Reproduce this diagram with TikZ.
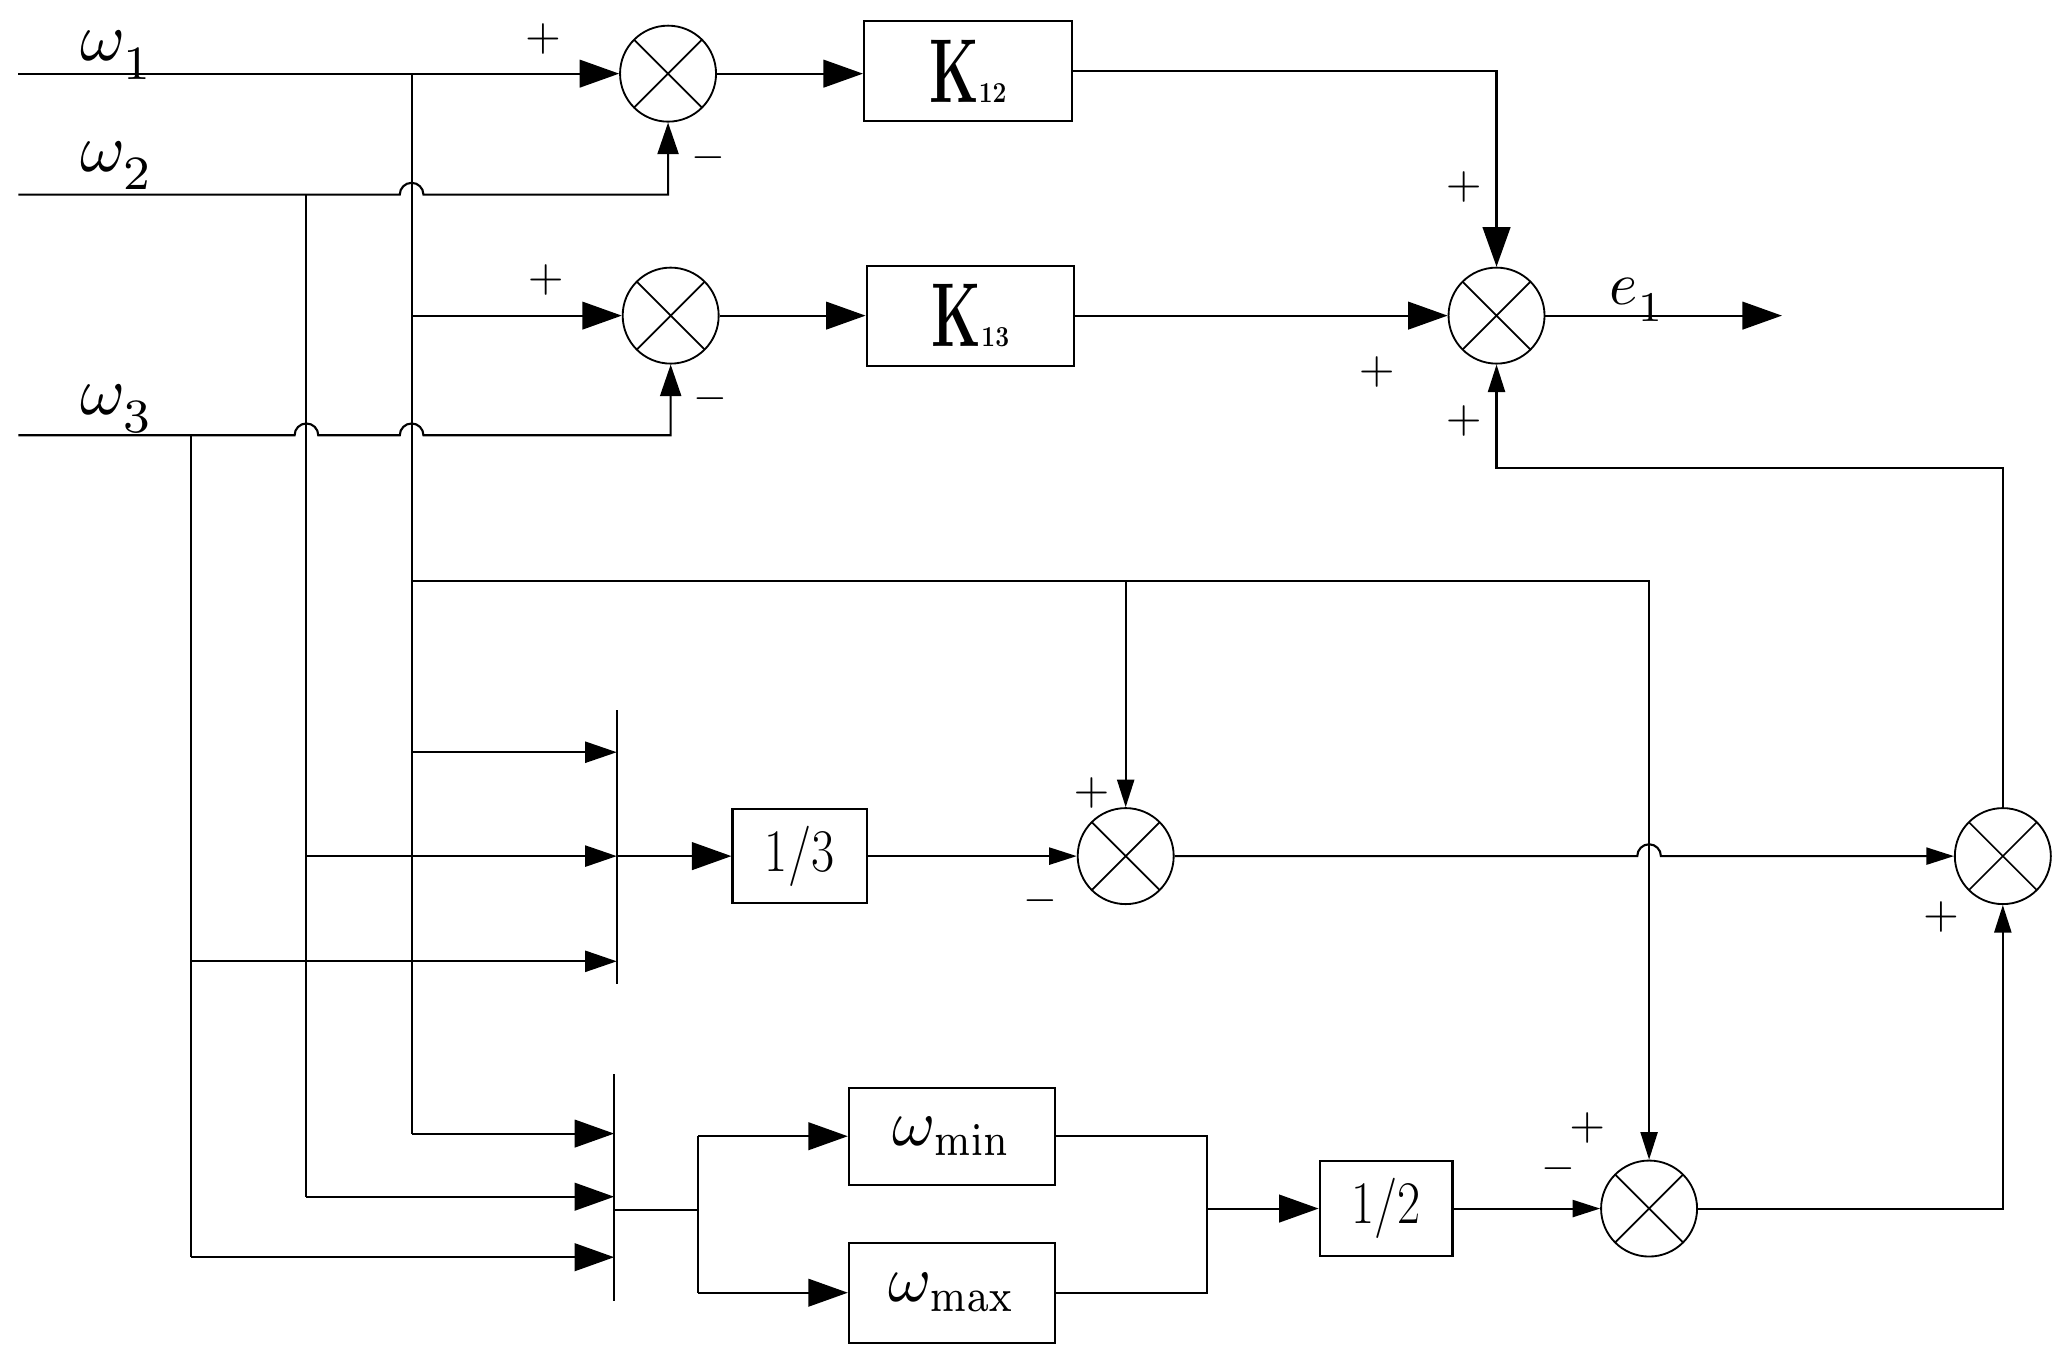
\documentclass[tikz,border=0pt]{standalone}
\usepackage{graphicx}
\usetikzlibrary{arrows.meta,calc}
\newcommand\Kt[1]{\scalebox{0.62}[1]{\fontsize{69}{70}\selectfont\bfseries K}\scalebox{0.85}[1]{\fontsize{22}{22}\selectfont\bfseries #1}}
\newcommand\frc[1]{\scalebox{0.83}[1]{\fontsize{46}{46}\selectfont #1}}
\newcommand\pls{\scalebox{3.5}{$+$}}
\newcommand\mns{\scalebox{3.3}{$-$}}
\newcommand\wlab[1]{\scalebox{5.2}{$\omega_{\raisebox{-1.2pt}{$\scriptstyle #1$}}$}}
\begin{document}
\begin{tikzpicture}[x=1pt,y=-1pt,line width=1.6pt,
  sumj/.style={circle,draw,line width=1.4pt,minimum size=73pt,inner sep=0pt,
    path picture={\draw[line width=1.3pt] (path picture bounding box.north west) -- (path picture bounding box.south east)
      (path picture bounding box.north east) -- (path picture bounding box.south west);}},
  blk/.style={draw,line width=1.6pt,minimum width=158pt,minimum height=76pt,inner sep=0pt},
  lbl/.style={inner sep=0pt},
  big/.style={-{Triangle[length=30pt,width=21pt]}},
  mid/.style={-{Triangle[length=24pt,width=16pt]}},
  sml/.style={-{Triangle[length=21pt,width=13pt]}}]
\useasboundingbox (0,0) rectangle (1568,1037);

% summing junctions
\node[sumj] (s1) at (508,56) {};
\node[sumj] (s2) at (510,240) {};
\node[sumj] (s3) at (1138,240) {};
\node[sumj] (s4) at (856,651) {};
\node[sumj] (s5) at (1523,651) {};
\node[sumj] (s6) at (1254,919) {};

% blocks
\node[blk] (k12) at (736,54) {\Kt{12}};
\node[blk] (k13) at (738,240) {\Kt{13}};
\node[blk,minimum width=102pt,minimum height=71pt] (b3) at (608,651) {\frc{1/3}};
\node[blk,minimum width=101pt,minimum height=72pt] (b2) at (1054,919) {\frc{1/2}};
\node[blk,minimum width=157pt,minimum height=74pt] (wmin) at (724,864) {\scalebox{5}{$\omega_{\scalebox{0.85}[1]{$\scriptstyle\min$}}$}};
\node[blk,minimum width=157pt,minimum height=76pt] (wmax) at (724,983) {\scalebox{5}{$\omega_{\scalebox{0.85}[1]{$\scriptstyle\max$}}$}};

% input labels
\node[lbl] (lw1) at (89,42) {\wlab{1}};
\node[lbl] (lw2) at (89,126) {\wlab{2}};
\node[lbl] (lw3) at (89,311) {\wlab{3}};
\node[lbl] (le1) at (1245,228) {\scalebox{4.6}{$e_{\raisebox{-1.2pt}{$\scriptstyle 1$}}$}};

% signs
\node[lbl] (p1) at (413,30) {\pls};
\node[lbl] (m1) at (539,120) {\mns};
\node[lbl] (p2) at (415,213) {\pls};
\node[lbl] (m2) at (540,303) {\mns};
\node[lbl] (p3a) at (1113,142) {\pls};
\node[lbl] (p3b) at (1047,283) {\pls};
\node[lbl] (p3c) at (1113,320) {\pls};
\node[lbl] (p4) at (830,603) {\pls};
\node[lbl] (m4) at (791,685) {\mns};
\node[lbl] (p5) at (1476,697) {\pls};
\node[lbl] (p6) at (1207,858) {\pls};
\node[lbl] (m6) at (1185,889) {\mns};

% coordinates
\coordinate (in1) at (14,56);
\coordinate (in2) at (14,148);
\coordinate (in3) at (14,331);
\coordinate (j1) at (313,56);
\coordinate (j2) at (233,148);
\coordinate (j3) at (145,331);
\coordinate (bar1a) at (469,540);
\coordinate (bar1b) at (469,748);
\coordinate (bar2a) at (467,817);
\coordinate (bar2b) at (467,989);
\coordinate (fb) at (1138,356);
\coordinate (out) at (1355,240);

% omega1
\draw[big] (in1) -- (s1.west);
\draw (j1) -- (313,862);
\draw[big] (313,240) -- (s2.west);
\draw[sml] (313,442) -| (s6.north);
\draw[sml] (856,442) -- (s4.north);
\draw[mid] (313,572) -- (469,572);
\draw[big] (313,862) -- (467,862);

% omega2
\draw[mid] (in2) -- (304,148) arc[start angle=180,end angle=0,radius=9pt] -- (508,148) -- (s1.south);
\draw (j2) -- (233,910);
\draw[mid] (233,651) -- (469,651);
\draw[big] (233,910) -- (467,910);

% omega3
\draw[mid] (in3) -- (224,331) arc[start angle=180,end angle=0,radius=9pt] -- (304,331) arc[start angle=180,end angle=0,radius=9pt] -- (510,331) -- (s2.south);
\draw (j3) -- (145,956);
\draw[mid] (145,731) -- (469,731);
\draw[big] (145,956) -- (467,956);

% top part
\draw[big] (s1.east) -- (s1.east -| k12.west);
\draw[big] (s2.east) -- (s2.east -| k13.west);
\draw[big] (k12.east) -| (s3.north);
\draw[big] (k13.east) -- (s3.west);
\draw[big] (s3.east) -- (out);
\draw[sml] (s5.north) |- (fb) -- (s3.south);

% bar 1
\draw (bar1a) -- (bar1b);
\draw[big] (469,651) -- (b3.west);
\draw[sml] (b3.east) -- (s4.west);
\draw[sml] (s4.east) -- (1245,651) arc[start angle=180,end angle=0,radius=9pt] -- (s5.west);

% bar 2
\draw (bar2a) -- (bar2b);
\draw (467,920) -- (531,920);
\draw (531,864) -- (531,983);
\draw[big] (531,864) -- (wmin.west);
\draw[big] (531,983) -- (wmax.west);
\draw (wmin.east) -- (918,864) -- (918,983) -- (wmax.east);
\draw[big] (918,919) -- (b2.west);
\draw[sml] (b2.east) -- (s6.west);
\draw[sml] (s6.east) -| (s5.south);
\end{tikzpicture}
\end{document}
